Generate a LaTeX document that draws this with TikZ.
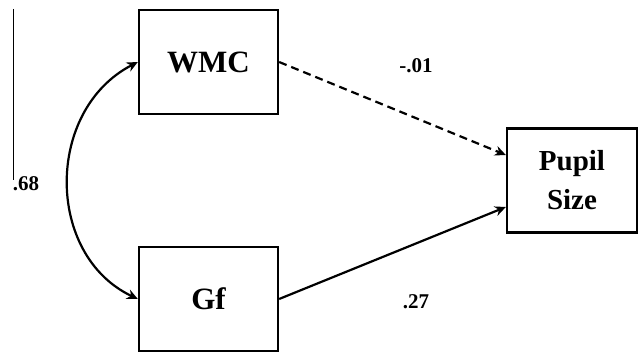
\documentclass[tikz,border=0pt]{standalone}
\usepackage{fontspec}
\setmainfont{Liberation Serif}
\usetikzlibrary{arrows.meta}
\begin{document}
\begin{tikzpicture}[x=1pt,y=-1pt,
  varbox/.style={draw,line width=2.3pt,minimum width=139pt,minimum height=104pt,inner sep=0pt,font=\fontsize{31}{38}\selectfont\bfseries,align=center},
  coef/.style={font=\fontsize{21}{24}\selectfont\bfseries,inner sep=0pt},
  path/.style={line width=2.2pt,-{Stealth[length=11pt,width=10pt]}}]
\useasboundingbox (0,0) rectangle (638,352);
\node[varbox] (wmc) at (208.5,62) {WMC};
\node[varbox] (gf) at (208.5,299) {Gf};
\node[varbox,minimum width=130pt,font=\fontsize{29}{39}\selectfont\bfseries] (pupil) at (572,180.5) {Pupil\\Size};
\draw[path,dashed,dash pattern=on 8pt off 5pt] (wmc.east) -- ([yshift=25.5pt]pupil.west);
\draw[path] (gf.east) -- ([yshift=-26.5pt]pupil.west);
\draw[line width=2.2pt,{Stealth[length=11pt,width=10pt]}-{Stealth[length=11pt,width=10pt]}] (wmc.west) .. controls (45,110) and (45,255) .. (gf.west);
\coordinate (vt) at (13,9);
\coordinate (vb) at (13,180);
\draw[line width=1pt] (vt) -- (vb);
\node[coef] (c68) at (26,184) {.68};
\node[coef] (c01) at (416,66) {-.01};
\node[coef] (c27) at (416,302) {.27};
\end{tikzpicture}
\end{document}
